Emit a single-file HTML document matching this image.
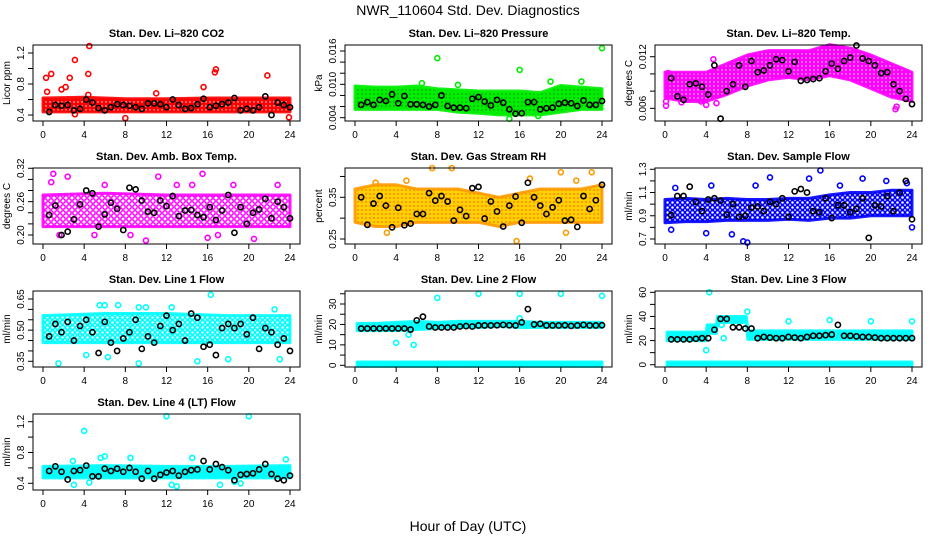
<!DOCTYPE html>
<html><head><meta charset="utf-8"><title>NWR_110604 Std. Dev. Diagnostics</title>
<style>
html,body{margin:0;padding:0;background:#fff;}
svg{display:block;font-family:"Liberation Sans",Arial,sans-serif;}
</style></head>
<body>
<svg id="chart" width="936" height="540" viewBox="0 0 936 540" xmlns="http://www.w3.org/2000/svg">
<defs>
<pattern id="pat-red" width="4" height="4" patternUnits="userSpaceOnUse"><rect width="4" height="4" fill="#ff0000"/><circle cx="2" cy="2" r="0.7" fill="#fff"/></pattern>
<pattern id="pat-green" width="4" height="4" patternUnits="userSpaceOnUse"><rect width="4" height="4" fill="#00ee00"/><circle cx="2" cy="2" r="0.6" fill="#060"/></pattern>
<pattern id="pat-magenta" width="4" height="4" patternUnits="userSpaceOnUse"><rect width="4" height="4" fill="#ff00ff"/><circle cx="2" cy="2" r="0.7" fill="#fff"/></pattern>
<pattern id="pat-magenta-sparse" width="6" height="6" patternUnits="userSpaceOnUse"><circle cx="3" cy="3" r="2.2" fill="none" stroke="#ff00ff" stroke-width="1.5"/></pattern>
<pattern id="pat-orange" width="4" height="4" patternUnits="userSpaceOnUse"><rect width="4" height="4" fill="#ffd000"/><circle cx="2" cy="2" r="1" fill="#ff8c00"/></pattern>
<pattern id="pat-blue-sparse" width="5" height="5" patternUnits="userSpaceOnUse"><circle cx="2.5" cy="2.5" r="2" fill="none" stroke="#0000ff" stroke-width="1.5"/></pattern>
<pattern id="pat-cyan-sparse" width="5" height="5" patternUnits="userSpaceOnUse"><circle cx="2.5" cy="2.5" r="2" fill="none" stroke="#00ffff" stroke-width="1.6"/></pattern>
<pattern id="pat-cyan" width="4" height="4" patternUnits="userSpaceOnUse"><rect width="4" height="4" fill="#00ffff"/></pattern>
</defs>
<text x="468" y="15" font-size="14" text-anchor="middle">NWR_110604  Std. Dev. Diagnostics</text>
<text x="468" y="531" font-size="14" text-anchor="middle">Hour of Day (UTC)</text>
<g id="panels"></g>
</svg>
<script>
// ---- shared data ----
const blackHours = [0.6,1.2,1.8,2.4,3.0,3.6,4.2,4.8,5.4,6.0,6.6,7.2,7.8,8.4,9.0,9.6,10.2,10.8,11.4,12.0,12.6,13.2,13.8,14.4,15.0,15.6,16.2,16.8,17.4,18.0,18.6,19.2,19.8,20.4,21.0,21.6,22.2,22.8,23.4,24.0];
const xTicks = [0,4,8,12,16,20,24];

// ---- CO2 ----
const co2BandX = [0,4,8,12,16,20,24];
const co2Lo = [0.44,0.44,0.44,0.44,0.44,0.44,0.44];
const co2Hi = [0.62,0.63,0.61,0.61,0.62,0.62,0.62];
const co2Out = [[0.3,0.88],[0.8,0.93],[2.6,0.88],[3.1,1.11],[4.5,1.29],[4.4,0.93],[2.2,0.76],[1.8,0.73],[0.4,0.70],[15.6,0.76],[16.8,0.99],[16.7,0.95],[21.8,0.91],[8,0.36],[23.9,0.37],[3.1,0.41],[4.4,0.66],[11,0.68]];
const co2Black = [0.44,0.53,0.52,0.53,0.46,0.48,0.60,0.56,0.49,0.46,0.50,0.54,0.53,0.52,0.50,0.48,0.55,0.55,0.54,0.50,0.60,0.53,0.48,0.49,0.54,0.61,0.50,0.52,0.54,0.56,0.62,0.46,0.48,0.46,0.50,0.64,0.40,0.56,0.53,0.50];

// ---- Pressure ----
const presBandX = [0,2,4,6,8,10,12,14,16,18,20,22,24];
const presLo = [0.0055,0.0055,0.0055,0.0055,0.0055,0.005,0.0048,0.0045,0.0045,0.0045,0.005,0.0055,0.0055];
const presHi = [0.0097,0.0095,0.0095,0.0097,0.0092,0.009,0.0088,0.0088,0.0088,0.0085,0.0098,0.0095,0.0092];
const presOut = [[8,0.0147],[16,0.0126],[24,0.0165],[15,0.0038],[17.8,0.0043],[6.5,0.0102],[19,0.0105],[22,0.0105],[10,0.0099]];
const presBlack = [0.0063,0.0068,0.0063,0.0072,0.0070,0.0082,0.0066,0.0079,0.0064,0.0064,0.0063,0.0060,0.0063,0.0080,0.0061,0.0058,0.0058,0.0057,0.0074,0.0077,0.0069,0.0062,0.0072,0.0067,0.0055,0.0047,0.0048,0.0068,0.0068,0.0055,0.0057,0.0058,0.0065,0.0067,0.0066,0.0061,0.0071,0.0063,0.0063,0.0070];

// ---- Li-820 Temp ----
const tempBandX = [0,2,4,6,8,10,12,14,16,18,20,22,24];
const tempLo = [0.0072,0.0068,0.0068,0.0076,0.0086,0.0093,0.0096,0.0093,0.0098,0.0093,0.0083,0.0073,0.0068];
const tempHi = [0.0102,0.0102,0.0102,0.0112,0.0122,0.0127,0.0127,0.0127,0.0134,0.0130,0.0122,0.0112,0.0102];
const tempOut = [[0.1,0.0063],[0.1,0.0068],[4.0,0.0064],[5.0,0.0066],[22.4,0.0059],[22.5,0.0062],[1.6,0.0067],[3.5,0.0068],[0.3,0.0101],[4.7,0.0117]];
const tempBlack = [0.0095,0.0074,0.0070,0.0088,0.0089,0.0085,0.0076,0.0110,0.0048,0.0080,0.0088,0.0110,0.0085,0.0115,0.0102,0.0104,0.0110,0.0117,0.0116,0.0103,0.0114,0.0092,0.0093,0.0094,0.0095,0.0103,0.0112,0.0106,0.0115,0.0119,0.0133,0.0118,0.0115,0.0110,0.0101,0.0102,0.0088,0.0080,0.0071,0.0065];

// ---- Amb. Box Temp ----
const boxBandX = [0,6,12,18,24];
const boxLo = [0.215,0.215,0.215,0.215,0.215];
const boxHi = [0.272,0.275,0.272,0.272,0.272];
const boxOut = [[1.0,0.31],[0.8,0.295],[2.4,0.305],[6.0,0.29],[11.2,0.305],[13,0.29],[15.5,0.31],[10,0.19],[8.5,0.20],[16,0.195],[20.5,0.193],[22.8,0.29],[5,0.20],[1.6,0.20],[17,0.2],[18.5,0.29],[14.5,0.29]];
const boxBlack = [0.236,0.253,0.200,0.206,0.228,0.255,0.280,0.275,0.215,0.237,0.258,0.247,0.209,0.285,0.282,0.262,0.242,0.240,0.262,0.252,0.270,0.234,0.244,0.245,0.236,0.232,0.250,0.227,0.244,0.272,0.204,0.250,0.220,0.240,0.246,0.265,0.230,0.260,0.250,0.230];

// ---- Gas Stream RH ----
const rhBandX = [0,2,4,6,8,10,12,14,16,18,20,22,24];
const rhLo = [0.29,0.28,0.28,0.29,0.29,0.29,0.29,0.28,0.29,0.29,0.29,0.29,0.29];
const rhHi = [0.37,0.38,0.38,0.37,0.37,0.37,0.36,0.35,0.36,0.37,0.37,0.37,0.38];
const rhOut = [[7.5,0.42],[9.4,0.42],[3.1,0.265],[15.7,0.245],[20.5,0.265],[23,0.41],[20,0.41],[5,0.39],[2,0.385],[17,0.395],[21.5,0.39]];
const rhBlack = [0.350,0.284,0.335,0.353,0.330,0.278,0.325,0.283,0.287,0.310,0.310,0.360,0.342,0.353,0.340,0.294,0.320,0.305,0.372,0.375,0.299,0.340,0.316,0.280,0.330,0.352,0.289,0.385,0.350,0.330,0.310,0.326,0.343,0.294,0.296,0.279,0.353,0.322,0.343,0.380];

// ---- Sample Flow ----
const sfBandX = [0,2,4,6,8,10,12,14,16,18,20,22,24];
const sfLo = [0.84,0.85,0.85,0.86,0.86,0.86,0.87,0.86,0.88,0.88,0.90,0.90,0.90];
const sfHi = [1.04,1.05,1.04,1.05,1.04,1.04,1.05,1.05,1.08,1.10,1.10,1.12,1.12];
const sfOut = [[1,1.14],[4.5,1.16],[10.2,1.23],[14,1.22],[15.1,1.29],[19.2,1.22],[21.5,1.20],[23.5,1.18],[7.6,0.68],[8,0.67],[4,0.75],[0.6,0.78],[24,0.80],[6.5,0.74],[8.8,1.16],[17,1.16]];
const sfBlack = [0.905,1.07,1.07,1.15,1.02,0.94,1.04,1.05,1.03,0.91,1.00,0.89,0.90,0.97,0.98,0.94,1.02,1.00,1.05,0.89,1.11,1.13,1.10,0.94,0.93,1.05,0.88,0.99,0.99,0.93,0.96,1.05,0.71,0.99,0.98,1.07,0.94,1.10,1.20,0.87];

// ---- Line 1 Flow ----
const l1BandX = [0,6,12,18,24];
const l1Lo = [0.44,0.44,0.44,0.44,0.44];
const l1Hi = [0.57,0.58,0.58,0.57,0.57];
const l1Out = [[6,0.62],[5.5,0.62],[9.3,0.61],[12.5,0.61],[16.3,0.67],[22.5,0.60],[1.5,0.34],[9.3,0.34],[15,0.35],[23,0.36],[18,0.36],[4.2,0.38],[6.3,0.37],[7.3,0.62],[10,0.61]];
const l1Black = [0.47,0.53,0.49,0.54,0.45,0.52,0.55,0.49,0.39,0.54,0.44,0.40,0.46,0.49,0.55,0.41,0.47,0.44,0.52,0.57,0.50,0.53,0.45,0.58,0.56,0.42,0.43,0.38,0.51,0.53,0.51,0.53,0.48,0.56,0.41,0.51,0.49,0.43,0.46,0.40];

// ---- Line 2 Flow ----
const l2BandX = [0.2,2,4,6,8,10,12,14,16,18,20,22,24];
const l2Lo = [17,17,17,17.5,18,18.5,18.5,19,18.5,18.5,18.5,18.5,18.5];
const l2Hi = [20.5,20.5,21,21.5,21,21.5,21.5,21.5,21.5,21,21,21,21];
const l2BaseLo = [-0.5,-0.5,-0.5,-0.5,-0.5,-0.5,-0.5,-0.5,-0.5,-0.5,-0.5,-0.5,-0.5];
const l2BaseHi = [1.6,1.6,1.6,1.6,1.6,1.6,1.6,1.6,1.6,1.6,1.6,1.6,1.6];
const l2Out = [[8,33],[12,35],[16,35],[20,35],[24,34],[4,11],[5.7,10],[5.2,15],[16,23]];
const l2Black = [18,18,18,18,18,18,18,18,17.5,22,23.8,19,18.5,18.5,18.5,18.5,19,19.2,19,19.5,19.5,19.5,19.6,19.8,19.6,19.5,21,27.5,20,20.3,19.5,19.5,19.5,19.6,19.3,19.5,19.8,19.5,19.5,19.6];

// ---- Line 3 Flow ----
const l3BandX = [0.2,4,4.1,5,5.1,7.9,8.05,24];
const l3Lo = [20,20,26,26,35,35,21,21];
const l3Hi = [27,27,33,33,40,40,28,28];
const l3BaseX = [0.2,24];
const l3BaseLo = [-0.8,-0.8];
const l3BaseHi = [2.2,2.2];
const l3Out = [[4,12],[4.3,60],[5.7,22],[8,44],[12,36],[16,37],[20,36],[24,36],[5.5,33],[4.8,30]];
const l3Black = [21,21,21,21,21.5,22,22,29,38,38,31,31,30,30,22,23,22.5,22,22,23,22.5,22,23,24,24,24.5,25,33,24,24,23.5,23,23,22.5,22,22,22,22,22,22];

// ---- Line 4 (LT) Flow ----
const l4BandX = [0,6,12,18,24];
const l4Lo = [0.47,0.47,0.47,0.47,0.47];
const l4Hi = [0.62,0.63,0.62,0.62,0.63];
const l4Out = [[4,1.08],[12,1.27],[20,1.27],[5.6,0.73],[6,0.75],[8.5,0.73],[14.5,0.73],[23.6,0.71],[2.9,0.69],[3,0.38],[4.5,0.41],[12.5,0.38],[13,0.36],[17.2,0.38],[19.2,0.40],[18.6,0.42]];
const l4Black = [0.56,0.62,0.55,0.45,0.56,0.57,0.63,0.49,0.49,0.59,0.56,0.59,0.55,0.60,0.55,0.46,0.56,0.46,0.51,0.54,0.56,0.50,0.55,0.57,0.58,0.69,0.58,0.65,0.61,0.57,0.44,0.51,0.52,0.53,0.58,0.65,0.52,0.46,0.44,0.50];

// ---- layout (not data) ----
const colZero = [43,355,665];
const rowTop = [45,168,291,414];
const pxHour = 247/24;
const NS = 'http://www.w3.org/2000/svg';

const panels = [
 {name:'co2',title:'Stan. Dev. Li\u2013820 CO2',ylab:'Licor ppm',col:0,row:0,ymin:0.323,ymax:1.303,yt:[0.4,0.6,0.8,1.0,1.2],yl:['0.4','','0.8','','1.2'],fill:'url(#pat-red)',pc:'#ff0000',bands:[[co2BandX,co2Lo,co2Hi]],out:co2Out,black:co2Black},
 {name:'pressure',title:'Stan. Dev. Li\u2013820 Pressure',ylab:'kPa',col:1,row:0,ymin:0.0034,ymax:0.01708,yt:[0.004,0.006,0.008,0.010,0.012,0.014,0.016],yl:['0.004','','','0.010','','','0.016'],fill:'url(#pat-green)',pc:'#00ee00',bands:[[presBandX,presLo,presHi]],out:presOut,black:presBlack},
 {name:'li820-temp',title:'Stan. Dev. Li\u2013820 Temp.',ylab:'degrees C',col:2,row:0,ymin:0.00453,ymax:0.01336,yt:[0.006,0.008,0.010,0.012],yl:['0.006','','','0.012'],fill:'url(#pat-magenta)',pc:'#ff00ff',bands:[[tempBandX,tempLo,tempHi]],out:tempOut,black:tempBlack},
 {name:'box-temp',title:'Stan. Dev. Amb. Box Temp.',ylab:'degrees C',col:0,row:1,ymin:0.1838,ymax:0.3205,yt:[0.20,0.22,0.24,0.26,0.28,0.30,0.32],yl:['0.20','','','0.26','','','0.32'],fill:'url(#pat-magenta-sparse)',pc:'#ff00ff',bands:[[boxBandX,boxLo,boxHi]],out:boxOut,black:boxBlack},
 {name:'rh',title:'Stan. Dev. Gas Stream RH',ylab:'percent',col:1,row:1,ymin:0.238,ymax:0.4203,yt:[0.25,0.30,0.35,0.40],yl:['0.25','','0.35',''],fill:'url(#pat-orange)',pc:'#ff9900',bands:[[rhBandX,rhLo,rhHi]],out:rhOut,black:rhBlack},
 {name:'sample-flow',title:'Stan. Dev. Sample Flow',ylab:'ml/min',col:2,row:1,ymin:0.657,ymax:1.311,yt:[0.7,0.8,0.9,1.0,1.1,1.2,1.3],yl:['0.7','','0.9','','1.1','','1.3'],fill:'url(#pat-blue-sparse)',pc:'#0000ff',bands:[[sfBandX,sfLo,sfHi]],out:sfOut,black:sfBlack},
 {name:'line1-flow',title:'Stan. Dev. Line 1 Flow',ylab:'ml/min',col:0,row:2,ymin:0.3226,ymax:0.6885,yt:[0.35,0.40,0.45,0.50,0.55,0.60,0.65],yl:['0.35','','','0.50','','','0.65'],fill:'url(#pat-cyan-sparse)',pc:'#00ffff',bands:[[l1BandX,l1Lo,l1Hi]],out:l1Out,black:l1Black},
 {name:'line2-flow',title:'Stan. Dev. Line 2 Flow',ylab:'ml/min',col:1,row:2,ymin:-0.83,ymax:36.36,yt:[0,5,10,15,20,25,30,35],yl:['0','','10','','20','','30',''],fill:'url(#pat-cyan)',pc:'#00ffff',bands:[[l2BandX,l2Lo,l2Hi],[l2BandX,l2BaseLo,l2BaseHi]],out:l2Out,black:l2Black},
 {name:'line3-flow',title:'Stan. Dev. Line 3 Flow',ylab:'ml/min',col:2,row:2,ymin:-1.9,ymax:61.1,yt:[0,10,20,30,40,50,60],yl:['0','','20','','40','','60'],fill:'url(#pat-cyan)',pc:'#00ffff',bands:[[l3BandX,l3Lo,l3Hi],[l3BaseX,l3BaseLo,l3BaseHi]],out:l3Out,black:l3Black},
 {name:'line4-flow',title:'Stan. Dev. Line 4 (LT) Flow',ylab:'ml/min',col:0,row:3,ymin:0.313,ymax:1.30,yt:[0.4,0.6,0.8,1.0,1.2],yl:['0.4','','0.8','','1.2'],fill:'url(#pat-cyan)',pc:'#00ffff',bands:[[l4BandX,l4Lo,l4Hi]],out:l4Out,black:l4Black}
];

function mk(tag, attrs, parent){
  const e = document.createElementNS(NS, tag);
  for (const k in attrs) e.setAttribute(k, attrs[k]);
  parent.appendChild(e);
  return e;
}

const root = document.getElementById('panels');
panels.forEach(p => {
  const x0 = colZero[p.col];
  const top = rowTop[p.row], bot = top + 76;
  const left = x0 - 10, right = x0 + 257;
  const sx = h => x0 + h * pxHour;
  const sy = v => bot - (v - p.ymin) / (p.ymax - p.ymin) * (bot - top);
  const g = mk('g', {}, root);
  
  

  const t = mk('text', {x:(left+right)/2, y:top-8, 'font-size':11, 'font-weight':'bold', 'text-anchor':'middle'}, g);
  t.textContent = p.title;
  
  

  p.bands.forEach(b => {
    const [bx, lo, hi] = b;
    let pts = [];
    for (let i = 0; i < bx.length; i++) pts.push(sx(bx[i]) + ',' + sy(hi[i]));
    for (let i = bx.length - 1; i >= 0; i--) pts.push(sx(bx[i]) + ',' + sy(lo[i]));
    const poly = mk('polygon', {points: pts.join(' '), fill: p.fill, stroke: p.pc, 'stroke-width': 3, 'stroke-linejoin':'round', 'stroke-opacity': 0.9}, g);
    
    
  });
  p.out.forEach(o => {
    const c = mk('circle', {cx: sx(o[0]), cy: sy(o[1]), r: 2.5, fill: 'none', stroke: p.pc, 'stroke-width': 1.6}, g);
    
    
  });
  p.black.forEach((v, i) => {
    const c = mk('circle', {cx: sx(blackHours[i]), cy: sy(v), r: 2.6, fill: 'none', stroke: '#000', 'stroke-width': 1.6}, g);
    
    
  });
  const bx = mk('rect', {x: left, y: top, width: right-left, height: bot-top, fill: 'none', stroke: '#000', 'stroke-width': 1}, g);
  
  
  const xa = mk('g', {}, g);
  
  
  mk('line', {x1: sx(0), x2: sx(24), y1: bot, y2: bot, stroke:'#000'}, xa);
  xTicks.forEach(h => {
    mk('line', {x1: sx(h), x2: sx(h), y1: bot, y2: bot+5, stroke:'#000'}, xa);
    const tl = mk('text', {x: sx(h), y: bot+17, 'font-size': 10, 'text-anchor':'middle'}, xa);
    tl.textContent = h;
    
    
  });
  const ya = mk('g', {}, g);
  
  
  mk('line', {x1: left, x2: left, y1: sy(p.yt[0]), y2: sy(p.yt[p.yt.length-1]), stroke:'#000'}, ya);
  p.yt.forEach((v, i) => {
    mk('line', {x1: left-5, x2: left, y1: sy(v), y2: sy(v), stroke:'#000'}, ya);
    if (p.yl[i]) {
      const yy = sy(v);
      const tl = mk('text', {x: left-9, y: yy, 'font-size': 10, 'text-anchor':'middle', transform:'rotate(-90 '+(left-9)+' '+yy+')'}, ya);
      tl.textContent = p.yl[i];
      
      
    }
  });
  const yx = left - 23, ym = (top+bot)/2;
  const ylab = mk('text', {x: yx, y: ym, 'font-size': 10, 'text-anchor':'middle', transform:'rotate(-90 '+yx+' '+ym+')'}, g);
  ylab.textContent = p.ylab;
  
  
});
</script>
</body></html>
